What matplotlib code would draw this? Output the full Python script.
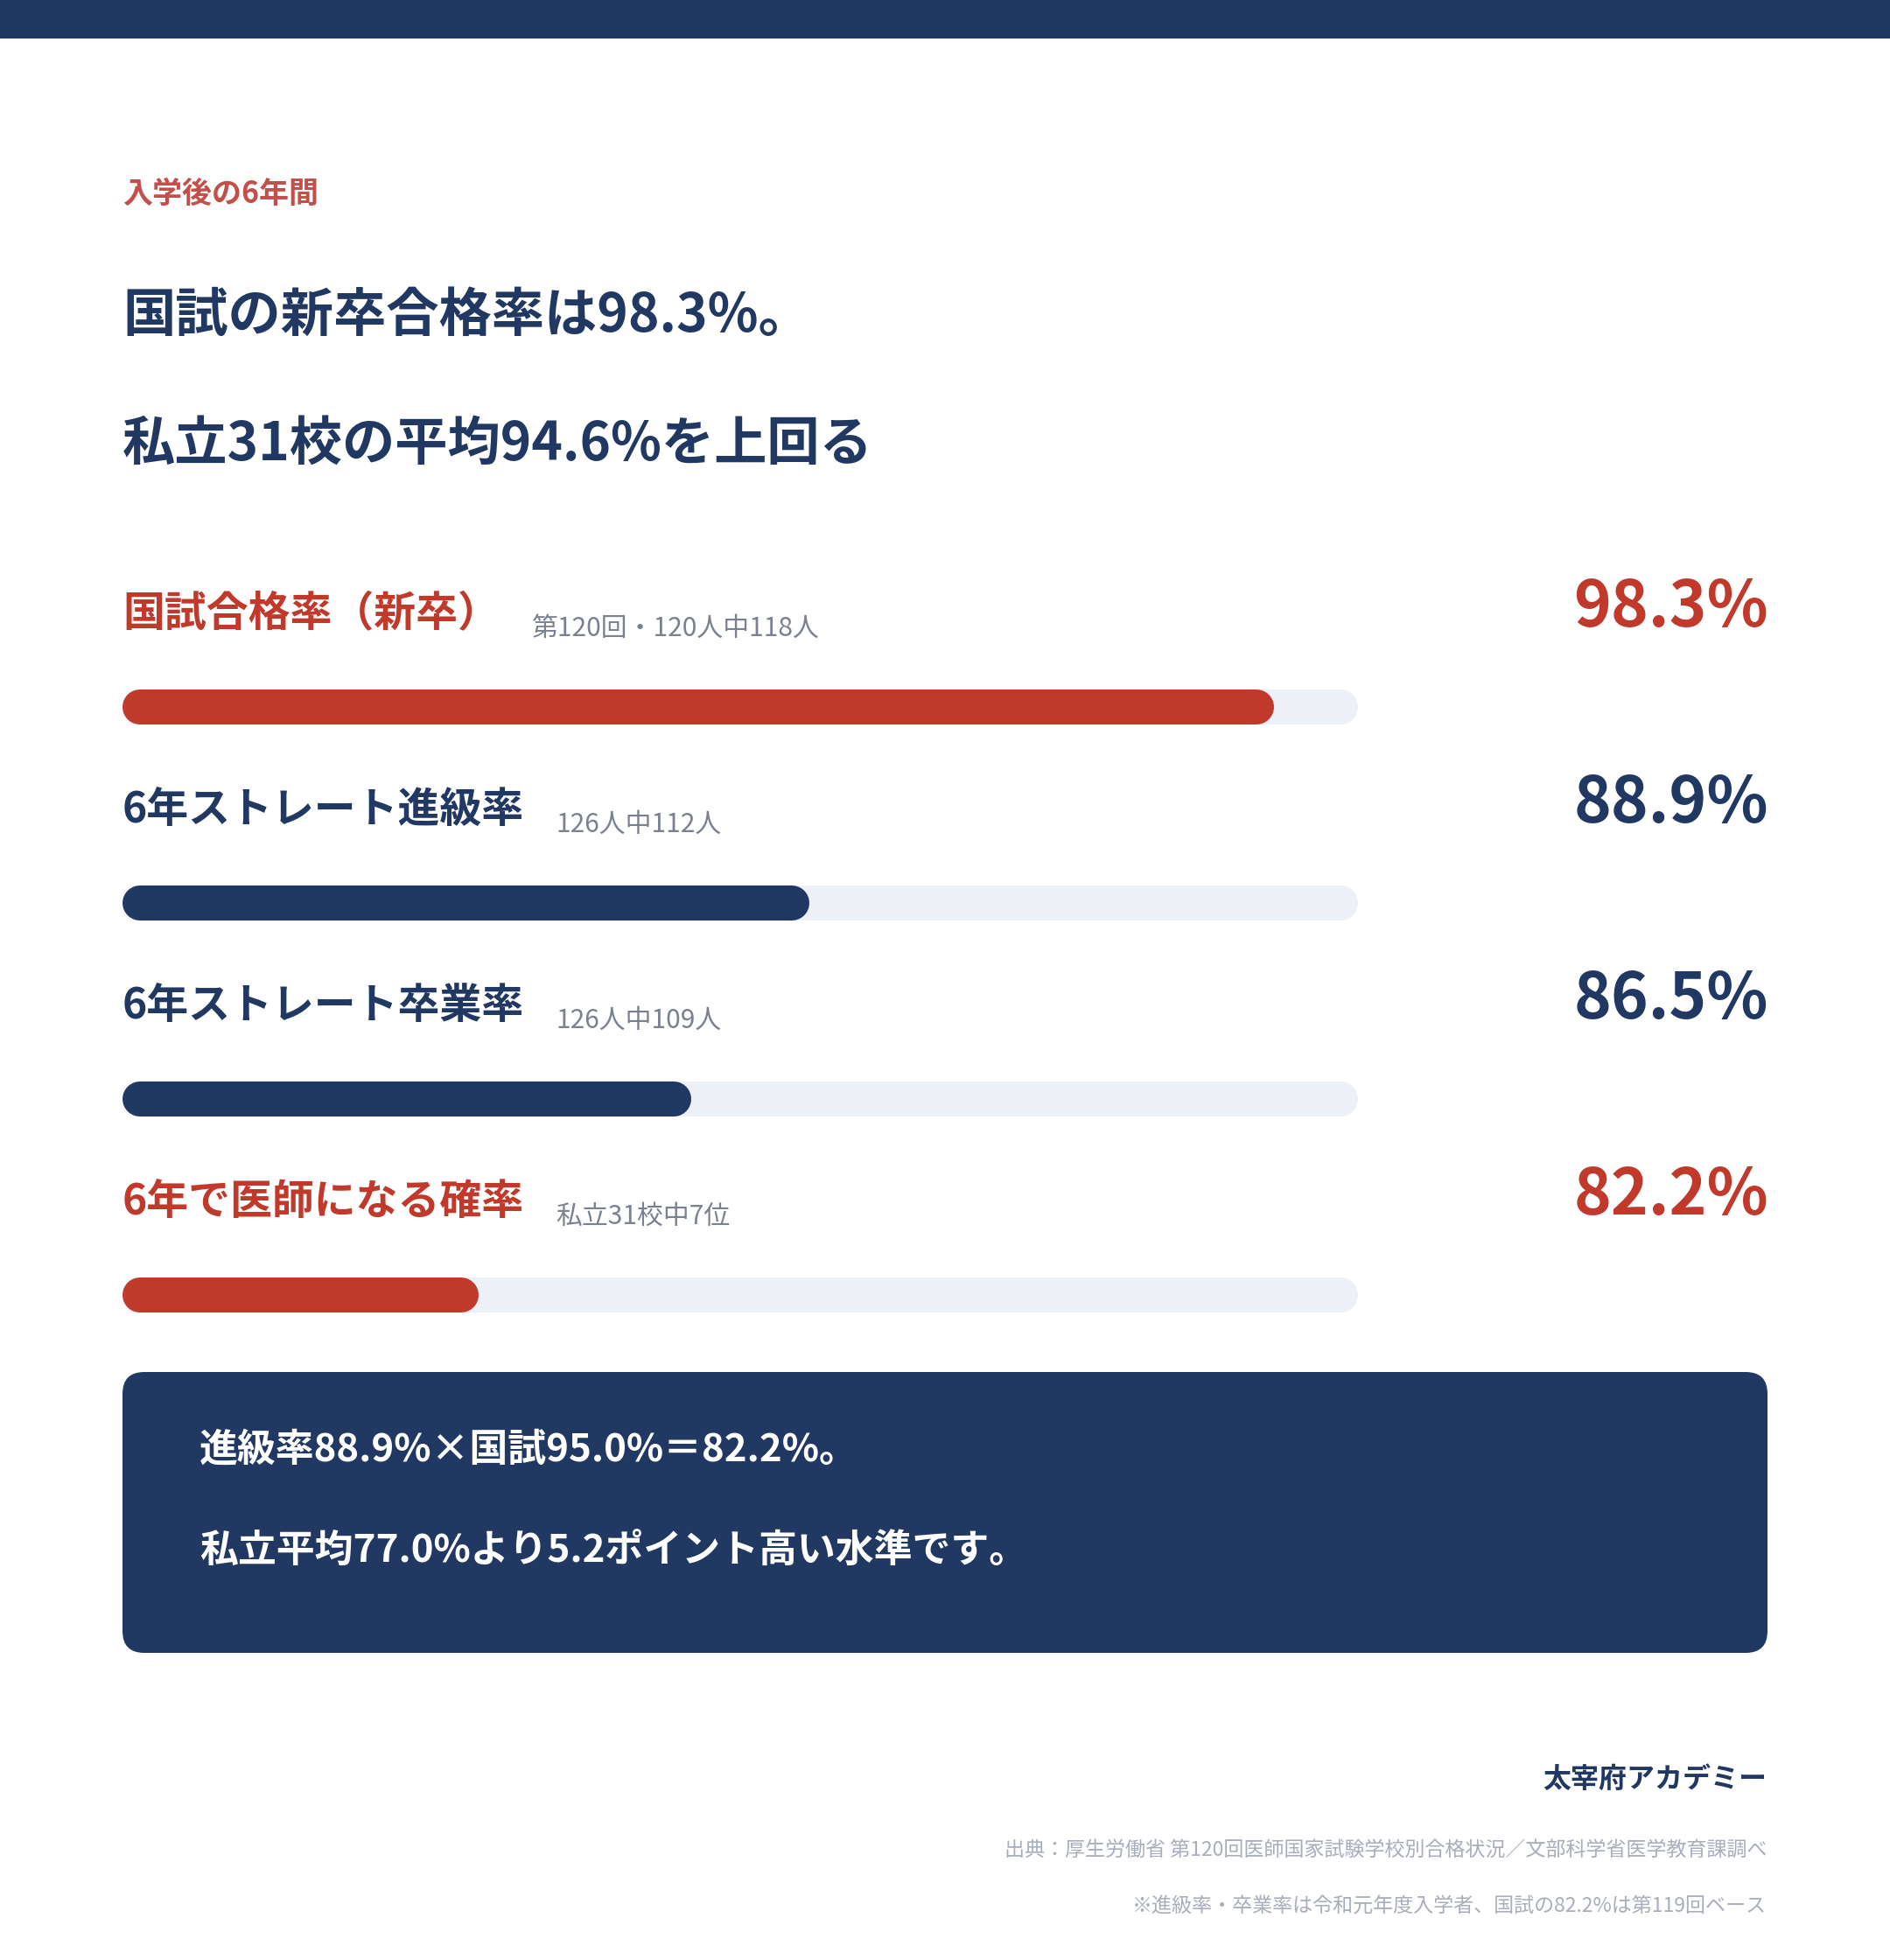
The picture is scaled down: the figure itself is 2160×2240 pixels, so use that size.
import matplotlib
matplotlib.use("Agg")
import matplotlib.pyplot as plt
from matplotlib.patches import Rectangle, FancyBboxPatch

plt.rcParams['font.family'] = ['Noto Sans CJK JP', 'DejaVu Sans']

# data
LABELS = ["国試合格率（新卒）", "6年ストレート進級率", "6年ストレート卒業率", "6年で医師になる確率"]
NOTES = ["第120回・120人中118人", "126人中112人", "126人中109人", "私立31校中7位"]
RATES = [98.3, 88.9, 86.5, 82.2]
ACCENT = [True, False, False, True]
SCALE_MIN, SCALE_MAX = 75, 100

EYEBROW = "入学後の6年間"
TITLE = ["国試の新卒合格率は98.3%。", "私立31校の平均94.6%を上回る"]
BOX_LINES = ["進級率88.9%×国試95.0%＝82.2%。", "私立平均77.0%より5.2ポイント高い水準です。"]
BRAND = "太宰府アカデミー"
SOURCE = "出典：厚生労働省 第120回医師国家試験学校別合格状況／文部科学省医学教育課調べ"
FOOTNOTE = "※進級率・卒業率は令和元年度入学者、国試の82.2%は第119回ベース"

NAVY = "#213862"
RED = "#c0392b"
SOFT_RED = "#c24f4a"
TRACK = "#edf0f7"
GREY = "#7b8191"
LIGHT = "#a9aebb"

W, H = 2160, 2240
fig = plt.figure(figsize=(W / 100, H / 100), dpi=100)
fig.patch.set_facecolor("white")

# overlay in pixel units (y down)
ax = fig.add_axes([0, 0, 1, 1])
ax.set_xlim(0, W)
ax.set_ylim(H, 0)
ax.axis("off")

ax.add_patch(Rectangle((0, 0), W, 44, color=NAVY, lw=0))

LEFT, RIGHT = 140, 2021
ax.text(LEFT, 232, EYEBROW, color=SOFT_RED, fontsize=24.5, fontweight="bold", va="baseline")
ax.text(LEFT, 379, TITLE[0], color=NAVY, fontsize=43.4, fontweight="bold", va="baseline")
ax.text(LEFT, 526, TITLE[1], color=NAVY, fontsize=43.4, fontweight="bold", va="baseline")

# rows
ROW0, ROW_GAP, BAR_H = 808, 224, 40
for i, (lab, note, v, acc) in enumerate(zip(LABELS, NOTES, RATES, ACCENT)):
    c = RED if acc else NAVY
    yc = ROW0 + i * ROW_GAP
    t = ax.text(LEFT, yc - 92, lab, color=c, fontsize=34.5, fontweight="bold", va="baseline")
    ax.annotate(note, xy=(1, yc - 81), xycoords=(t, "data"), xytext=(26, 0),
                textcoords="offset points", color=GREY, fontsize=21.5, va="baseline")
    ax.text(RIGHT, yc - 92, f"{v:.1f}%", color=c, fontsize=52.4, fontweight="bold",
            ha="right", va="baseline")

# bars axes
bar_left, bar_w = 140, 1412
top = ROW0 - ROW_GAP / 2
bottom = ROW0 + (len(RATES) - 0.5) * ROW_GAP
axb = fig.add_axes([bar_left / W, 1 - bottom / H, bar_w / W, (bottom - top) / H])
axb.set_xlim(SCALE_MIN, SCALE_MAX)
axb.set_ylim(len(RATES) - 0.5, -0.5)
axb.axis("off")
lw = BAR_H * 72 / 100
r = (BAR_H / 2) / bar_w * (SCALE_MAX - SCALE_MIN)
for i, (v, acc) in enumerate(zip(RATES, ACCENT)):
    axb.plot([SCALE_MIN + r, SCALE_MAX - r], [i, i], color=TRACK, lw=lw, solid_capstyle="round")
    axb.plot([SCALE_MIN + r, v - r], [i, i], color=RED if acc else NAVY, lw=lw,
             solid_capstyle="round")

# summary box
ax.add_patch(FancyBboxPatch((140, 1568), 1880, 321, boxstyle="round,pad=0,rounding_size=25",
                            facecolor=NAVY, edgecolor="none"))
ax.text(228, 1670, BOX_LINES[0], color="white", fontsize=31.6, fontweight="bold", va="baseline")
ax.text(228, 1785, BOX_LINES[1], color="white", fontsize=31.6, fontweight="bold", va="baseline")

# footer
ax.text(RIGHT - 2, 2043, BRAND, color=NAVY, fontsize=23, fontweight="bold", ha="right", va="baseline")
ax.text(RIGHT - 2, 2122, SOURCE, color=LIGHT, fontsize=16.6, ha="right", va="baseline")
ax.text(RIGHT - 2, 2186, FOOTNOTE, color=LIGHT, fontsize=16.6, ha="right", va="baseline")

fig.savefig("out.png", dpi=100, facecolor="white")
